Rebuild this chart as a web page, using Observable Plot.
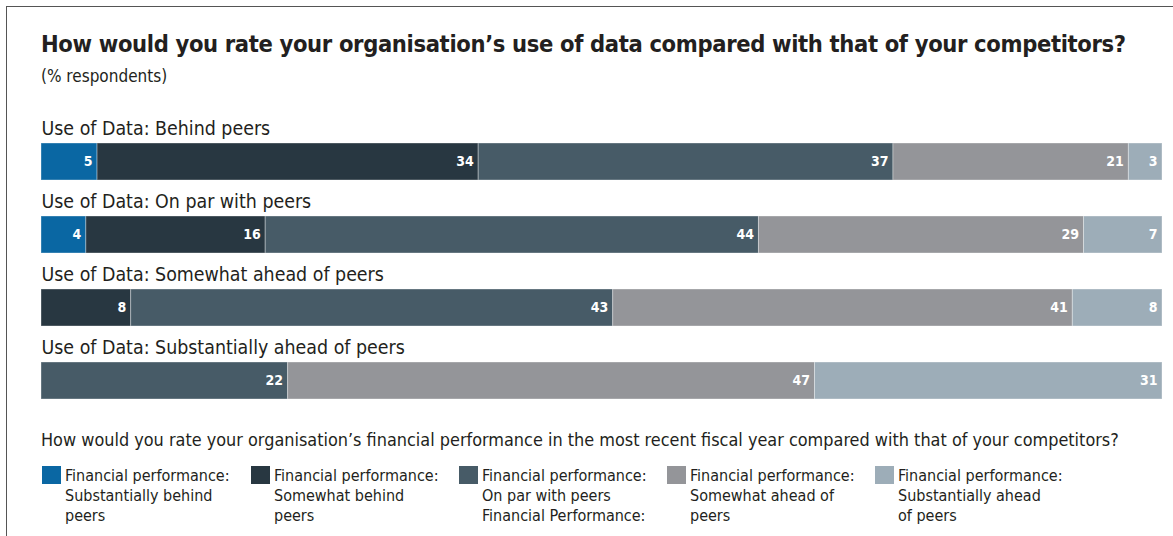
<!DOCTYPE html>
<html>
<head>
<meta charset="utf-8">
<script src="https://cdn.jsdelivr.net/npm/d3@7"></script>
<script src="https://cdn.jsdelivr.net/npm/@observablehq/plot@0.6"></script>
<style>
  html, body { margin: 0; padding: 0; background: #fff; }
  #wrap { position: relative; width: 1173px; height: 536px; overflow: hidden;
    font-family: "DejaVu Sans Condensed", "DejaVu Sans", sans-serif; color: #231f20; }
  #frameTop { position: absolute; left: 7px; top: 6px; width: 1166px; height: 0; border-top: 1.5px solid #555; }
  #frameLeft { position: absolute; left: 6px; top: 6px; width: 0; height: 540px; border-left: 1.5px solid #555; }
  #title { position: absolute; left: 41px; top: 30px; font-size: 23.5px; font-weight: bold; white-space: nowrap; letter-spacing: -0.35px; }
  #subtitle { position: absolute; left: 41px; top: 66px; font-size: 17px; white-space: nowrap; }
  #chart { position: absolute; left: 0; top: 110px; }
  #question { position: absolute; left: 41px; top: 429px; font-size: 17.9px; white-space: nowrap; }
  .item { position: absolute; top: 466px; font-size: 16px; line-height: 20px; }
  .sw { position: absolute; left: 0; top: 0; width: 19px; height: 18px; }
  .lt { position: absolute; left: 23px; top: 0px; white-space: nowrap; }
</style>
</head>
<body>
<div id="wrap">
  <div id="frameTop"></div>
  <div id="frameLeft"></div>
  <div id="title">How would you rate your organisation’s use of data compared with that of your competitors?</div>
  <div id="subtitle">(% respondents)</div>
  <div id="chart"></div>
  <div id="question">How would you rate your organisation’s financial performance in the most recent fiscal year compared with that of your competitors?</div>
  <div id="legend"></div>
</div>
<script>
// Categories (Use of Data) — one bar per row
const useOfData = [
  "Use of Data: Behind peers",
  "Use of Data: On par with peers",
  "Use of Data: Somewhat ahead of peers",
  "Use of Data: Substantially ahead of peers"
];
// Series (Financial performance)
const seriesKeys = ["subBehind", "someBehind", "onPar", "someAhead", "subAhead"];
const seriesLabels = [
  "Financial performance:\nSubstantially behind\npeers",
  "Financial performance:\nSomewhat behind\npeers",
  "Financial performance:\nOn par with peers\nFinancial Performance:",
  "Financial performance:\nSomewhat ahead of\npeers",
  "Financial performance:\nSubstantially ahead\nof peers"
];
const seriesColors = ["#0a67a3", "#283741", "#475b67", "#949599", "#9dadb8"];
// Values per series, in order of useOfData rows
const subBehind  = [5, 4, 0, 0];
const someBehind = [34, 16, 8, 0];
const onPar      = [37, 44, 43, 22];
const someAhead  = [21, 29, 41, 47];
const subAhead   = [3, 7, 8, 31];

const seriesValues = [subBehind, someBehind, onPar, someAhead, subAhead];
const data = [];
useOfData.forEach((u, i) => {
  seriesKeys.forEach((k, j) => {
    const v = seriesValues[j][i];
    if (v > 0) data.push({use: u, series: k, value: v});
  });
});

const stackOpts = {x: "value", y: "use", z: "series", order: seriesKeys};
const ff = "\"DejaVu Sans Condensed\", \"DejaVu Sans\", sans-serif";

const plot = Plot.plot({
  width: 1173,
  height: 300,
  marginLeft: 41,
  marginRight: 11,
  marginTop: 32,
  marginBottom: 11,
  x: {domain: [0, 100], axis: null},
  y: {domain: useOfData, axis: null, paddingInner: 0.495, paddingOuter: 0},
  color: {domain: seriesKeys, range: seriesColors},
  style: {background: "transparent", overflow: "visible"},
  marks: [
    Plot.barX(data, Plot.stackX({...stackOpts, fill: "series", stroke: "#ffffff", strokeOpacity: 0.35, strokeWidth: 1})),
    Plot.text(data, Plot.stackX2({...stackOpts, text: d => String(d.value), textAnchor: "end", dx: -5,
      fill: "white", fontWeight: "bold", fontSize: 14, fontFamily: ff})),
    Plot.text(useOfData, {x: 0, y: d => d, text: d => d, textAnchor: "start", dy: -33, fontSize: 19.4,
      fill: "#231f20", fontFamily: ff})
  ]
});
document.getElementById("chart").appendChild(plot);

// Legend
const legend = document.getElementById("legend");
const legendX = [42, 251, 459, 667, 875];
seriesKeys.forEach((k, j) => {
  const item = document.createElement("div");
  item.className = "item";
  item.style.left = legendX[j] + "px";
  const sw = document.createElement("div");
  sw.className = "sw";
  sw.style.background = seriesColors[j];
  const lt = document.createElement("div");
  lt.className = "lt";
  lt.innerHTML = seriesLabels[j].split("\n").join("<br>");
  item.appendChild(sw);
  item.appendChild(lt);
  legend.appendChild(item);
});
</script>
</body>
</html>
